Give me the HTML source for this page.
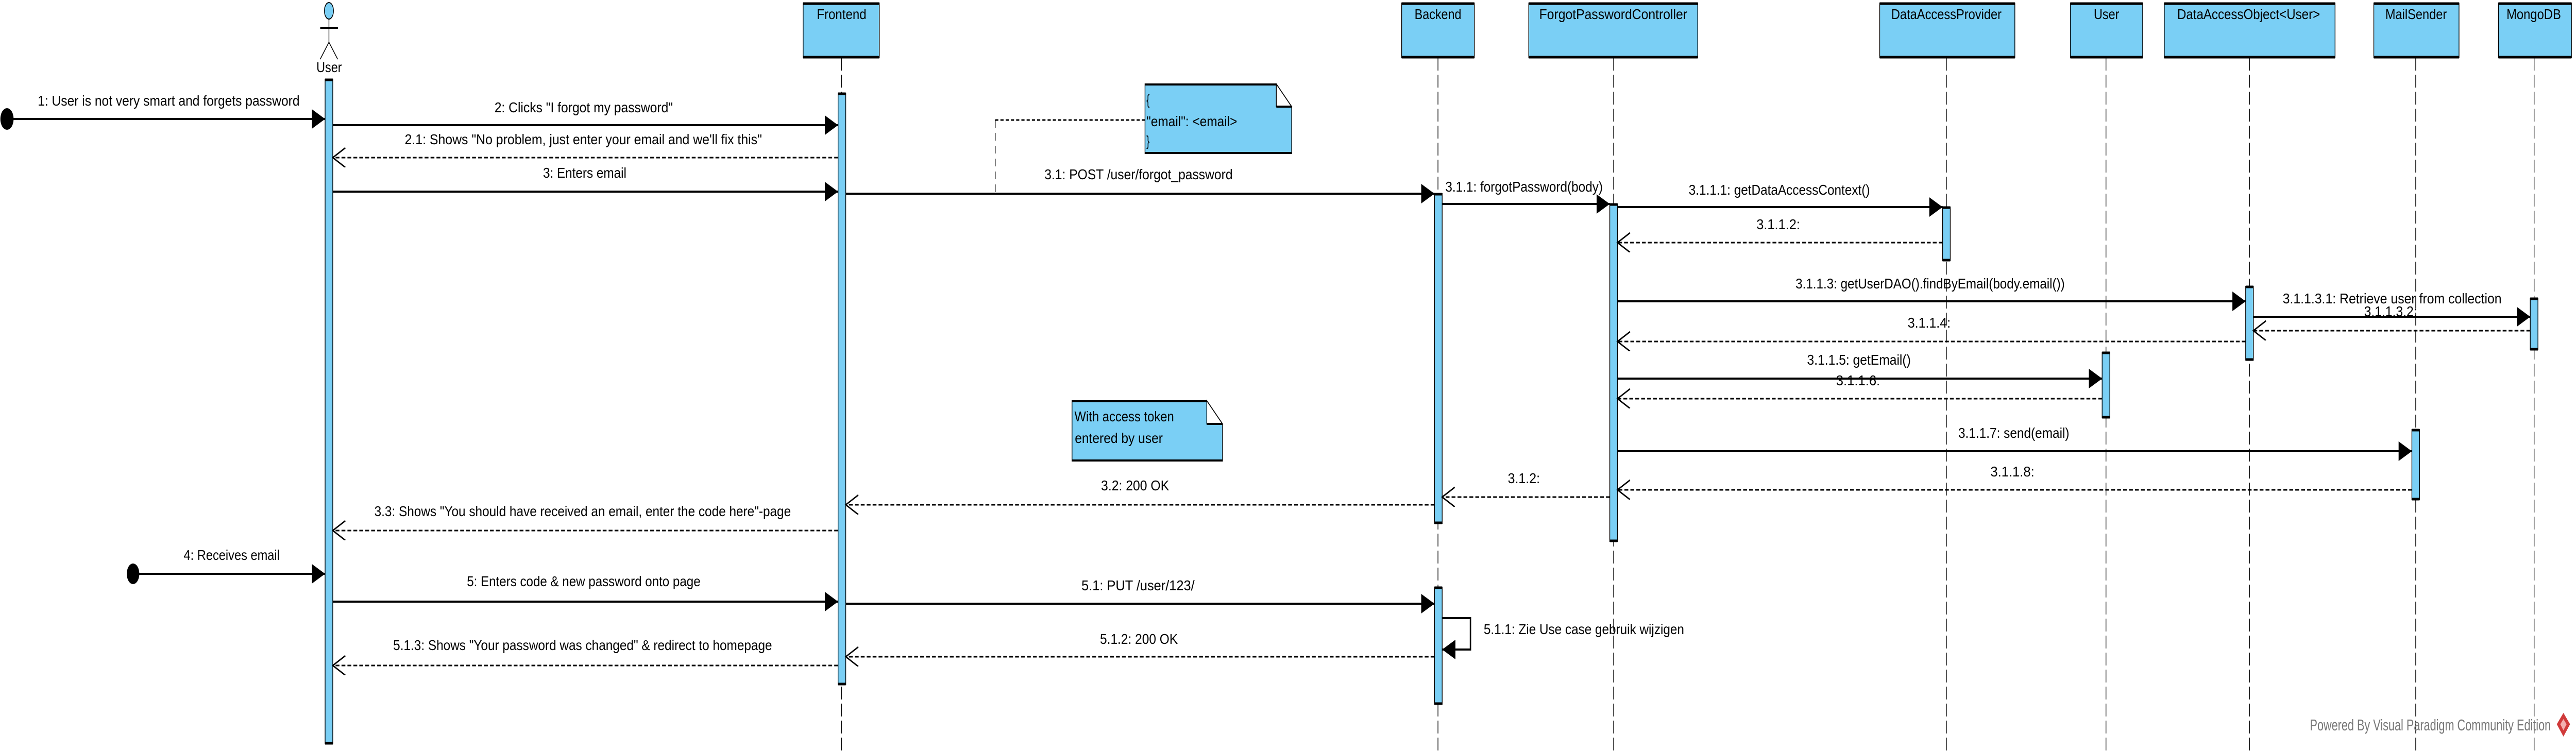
<!DOCTYPE html>
<html><head><meta charset="utf-8"><style>
html,body{margin:0;padding:0;background:#fff;width:100%;height:100%;overflow:hidden;}
svg{display:block;position:absolute;left:0;top:0;width:100vw;height:100vh;}
text{font-family:"Liberation Sans",sans-serif;font-size:28px;fill:#000;}
</style></head><body>
<svg viewBox="0 0 7377 1458" preserveAspectRatio="none" xmlns="http://www.w3.org/2000/svg">
<defs>
<marker id="fa" markerWidth="40" markerHeight="40" refX="38" refY="19" orient="auto" markerUnits="userSpaceOnUse"><path d="M0,0 L38,19 L0,38 Z" fill="#000"/></marker>
<marker id="oa" markerWidth="42" markerHeight="42" refX="38" refY="19" orient="auto" markerUnits="userSpaceOnUse"><path d="M2,0 L38,19 L2,38" fill="none" stroke="#000" stroke-width="3"/></marker>
</defs>
<g fill="#7ACFF5" stroke="#000" stroke-width="2">
<rect x="2300" y="6" width="218" height="106"/>
<rect x="4014" y="6" width="208" height="106"/>
<rect x="4378" y="6" width="484" height="106"/>
<rect x="5383" y="6" width="387" height="106"/>
<rect x="5929" y="6" width="207" height="106"/>
<rect x="6198" y="6" width="489" height="106"/>
<rect x="6798" y="6" width="244" height="106"/>
<rect x="7155" y="6" width="209" height="106"/>
</g>
<g stroke="#000" stroke-width="5">
<line x1="2300" y1="7" x2="2518" y2="7"/><line x1="2300" y1="111" x2="2518" y2="111"/>
<line x1="4014" y1="7" x2="4222" y2="7"/><line x1="4014" y1="111" x2="4222" y2="111"/>
<line x1="4378" y1="7" x2="4862" y2="7"/><line x1="4378" y1="111" x2="4862" y2="111"/>
<line x1="5383" y1="7" x2="5770" y2="7"/><line x1="5383" y1="111" x2="5770" y2="111"/>
<line x1="5929" y1="7" x2="6136" y2="7"/><line x1="5929" y1="111" x2="6136" y2="111"/>
<line x1="6198" y1="7" x2="6687" y2="7"/><line x1="6198" y1="111" x2="6687" y2="111"/>
<line x1="6798" y1="7" x2="7042" y2="7"/><line x1="6798" y1="111" x2="7042" y2="111"/>
<line x1="7155" y1="7" x2="7364" y2="7"/><line x1="7155" y1="111" x2="7364" y2="111"/>
</g>
<text x="2339" y="37" textLength="142" lengthAdjust="spacingAndGlyphs">Frontend</text>
<text x="4051" y="37" textLength="134" lengthAdjust="spacingAndGlyphs">Backend</text>
<text x="4408" y="37" textLength="424" lengthAdjust="spacingAndGlyphs">ForgotPasswordController</text>
<text x="5416" y="37" textLength="316" lengthAdjust="spacingAndGlyphs">DataAccessProvider</text>
<text x="5996" y="37" textLength="73" lengthAdjust="spacingAndGlyphs">User</text>
<text x="6235" y="37" textLength="409" lengthAdjust="spacingAndGlyphs">DataAccessObject&lt;User&gt;</text>
<text x="6831" y="37" textLength="176" lengthAdjust="spacingAndGlyphs">MailSender</text>
<text x="7178" y="37" textLength="156" lengthAdjust="spacingAndGlyphs">MongoDB</text>
<g stroke="#000" stroke-width="2" stroke-dasharray="25 8">
<line x1="2410" y1="112" x2="2410" y2="1458"/>
<line x1="4118" y1="112" x2="4118" y2="1458"/>
<line x1="4621" y1="112" x2="4621" y2="1458"/>
<line x1="5574" y1="112" x2="5574" y2="1458"/>
<line x1="6031" y1="112" x2="6031" y2="1458"/>
<line x1="6442" y1="112" x2="6442" y2="1458"/>
<line x1="6918" y1="112" x2="6918" y2="1458"/>
<line x1="7257" y1="112" x2="7257" y2="1458"/>
</g>
<ellipse cx="942" cy="21" rx="13" ry="16" fill="#7ACFF5" stroke="#000" stroke-width="2"/>
<g stroke="#000" stroke-width="2" fill="none">
<line x1="942" y1="37" x2="942" y2="82"/>
<line x1="917" y1="54" x2="968" y2="54" stroke-width="4"/>
<path d="M917,115 L942,82 L967,115"/>
</g>
<text x="906" y="140" textLength="73" lengthAdjust="spacingAndGlyphs">User</text>
<g fill="#7ACFF5" stroke="#000" stroke-width="2">
<rect x="931" y="154" width="22" height="1290"/>
<rect x="2400" y="181" width="22" height="1148"/>
<rect x="4108" y="376" width="22" height="640"/>
<rect x="4610" y="396" width="22" height="655"/>
<rect x="5563" y="402" width="22" height="104"/>
<rect x="6431" y="556" width="22" height="143"/>
<rect x="7246" y="579" width="22" height="100"/>
<rect x="6020" y="684" width="22" height="127"/>
<rect x="6907" y="834" width="22" height="136"/>
<rect x="4108" y="1140" width="22" height="227"/>
</g>
<g stroke="#000" stroke-width="5">
<line x1="931" y1="155" x2="953" y2="155"/><line x1="931" y1="1443" x2="953" y2="1443"/>
<line x1="2400" y1="182" x2="2422" y2="182"/><line x1="2400" y1="1328" x2="2422" y2="1328"/>
<line x1="4108" y1="377" x2="4130" y2="377"/><line x1="4108" y1="1015" x2="4130" y2="1015"/>
<line x1="4610" y1="397" x2="4632" y2="397"/><line x1="4610" y1="1050" x2="4632" y2="1050"/>
<line x1="5563" y1="403" x2="5585" y2="403"/><line x1="5563" y1="505" x2="5585" y2="505"/>
<line x1="6431" y1="557" x2="6453" y2="557"/><line x1="6431" y1="698" x2="6453" y2="698"/>
<line x1="7246" y1="580" x2="7268" y2="580"/><line x1="7246" y1="678" x2="7268" y2="678"/>
<line x1="6020" y1="685" x2="6042" y2="685"/><line x1="6020" y1="810" x2="6042" y2="810"/>
<line x1="6907" y1="835" x2="6929" y2="835"/><line x1="6907" y1="969" x2="6929" y2="969"/>
<line x1="4108" y1="1141" x2="4130" y2="1141"/><line x1="4108" y1="1366" x2="4130" y2="1366"/>
</g>
<ellipse cx="20" cy="231" rx="19" ry="21" fill="#000"/>
<ellipse cx="381" cy="1114" rx="18" ry="20" fill="#000"/>
<g stroke="#000" stroke-width="4" marker-end="url(#fa)">
<line x1="30" y1="231" x2="931" y2="231"/>
<line x1="953" y1="243" x2="2400" y2="243"/>
<line x1="953" y1="372" x2="2400" y2="372"/>
<line x1="2422" y1="376" x2="4108" y2="376"/>
<line x1="4130" y1="396" x2="4610" y2="396"/>
<line x1="4632" y1="402" x2="5563" y2="402"/>
<line x1="4632" y1="585" x2="6431" y2="585"/>
<line x1="6453" y1="615" x2="7246" y2="615"/>
<line x1="4632" y1="735" x2="6020" y2="735"/>
<line x1="4632" y1="876" x2="6907" y2="876"/>
<line x1="390" y1="1114" x2="931" y2="1114"/>
<line x1="953" y1="1168" x2="2400" y2="1168"/>
<line x1="2422" y1="1172" x2="4108" y2="1172"/>
<path d="M4130,1200 L4211,1200 L4211,1261 L4130,1261" fill="none"/>
</g>
<g stroke="#000" stroke-width="3" stroke-dasharray="11 6" marker-end="url(#oa)">
<line x1="2400" y1="306" x2="953" y2="306"/>
<line x1="5563" y1="471" x2="4632" y2="471"/>
<line x1="7246" y1="642" x2="6453" y2="642"/>
<line x1="6431" y1="663" x2="4632" y2="663"/>
<line x1="6020" y1="774" x2="4632" y2="774"/>
<line x1="6907" y1="951" x2="4632" y2="951"/>
<line x1="4610" y1="965" x2="4130" y2="965"/>
<line x1="4108" y1="980" x2="2422" y2="980"/>
<line x1="2400" y1="1030" x2="953" y2="1030"/>
<line x1="4108" y1="1275" x2="2422" y2="1275"/>
<line x1="2400" y1="1292" x2="953" y2="1292"/>
</g>
<text x="108" y="205" textLength="750" lengthAdjust="spacingAndGlyphs">1: User is not very smart and forgets password</text>
<text x="1416" y="218" textLength="511" lengthAdjust="spacingAndGlyphs">2: Clicks "I forgot my password"</text>
<text x="1159" y="280" textLength="1023" lengthAdjust="spacingAndGlyphs">2.1: Shows "No problem, just enter your email and we'll fix this"</text>
<text x="1555" y="345" textLength="239" lengthAdjust="spacingAndGlyphs">3: Enters email</text>
<text x="2991" y="348" textLength="539" lengthAdjust="spacingAndGlyphs">3.1: POST /user/forgot_password</text>
<text x="4139" y="372" textLength="451" lengthAdjust="spacingAndGlyphs">3.1.1: forgotPassword(body)</text>
<text x="4836" y="378" textLength="519" lengthAdjust="spacingAndGlyphs">3.1.1.1: getDataAccessContext()</text>
<text x="5030" y="445" textLength="125" lengthAdjust="spacingAndGlyphs">3.1.1.2:</text>
<text x="5142" y="560" textLength="771" lengthAdjust="spacingAndGlyphs">3.1.1.3: getUserDAO().findByEmail(body.email())</text>
<text x="6537" y="589" textLength="627" lengthAdjust="spacingAndGlyphs">3.1.1.3.1: Retrieve user from collection</text>
<text x="6770" y="614" textLength="152" lengthAdjust="spacingAndGlyphs">3.1.1.3.2:</text>
<text x="5463" y="636" textLength="123" lengthAdjust="spacingAndGlyphs">3.1.1.4:</text>
<text x="5175" y="708" textLength="297" lengthAdjust="spacingAndGlyphs">3.1.1.5: getEmail()</text>
<text x="5258" y="748" textLength="126" lengthAdjust="spacingAndGlyphs">3.1.1.6:</text>
<text x="5608" y="850" textLength="318" lengthAdjust="spacingAndGlyphs">3.1.1.7: send(email)</text>
<text x="5700" y="925" textLength="126" lengthAdjust="spacingAndGlyphs">3.1.1.8:</text>
<text x="4318" y="938" textLength="92" lengthAdjust="spacingAndGlyphs">3.1.2:</text>
<text x="3153" y="952" textLength="195" lengthAdjust="spacingAndGlyphs">3.2: 200 OK</text>
<text x="1072" y="1002" textLength="1193" lengthAdjust="spacingAndGlyphs">3.3: Shows "You should have received an email, enter the code here"-page</text>
<text x="526" y="1087" textLength="275" lengthAdjust="spacingAndGlyphs">4: Receives email</text>
<text x="1337" y="1138" textLength="669" lengthAdjust="spacingAndGlyphs">5: Enters code &amp; new password onto page</text>
<text x="3097" y="1146" textLength="324" lengthAdjust="spacingAndGlyphs">5.1: PUT /user/123/</text>
<text x="4249" y="1231" textLength="574" lengthAdjust="spacingAndGlyphs">5.1.1: Zie Use case gebruik wijzigen</text>
<text x="3150" y="1250" textLength="223" lengthAdjust="spacingAndGlyphs">5.1.2: 200 OK</text>
<text x="1126" y="1262" textLength="1085" lengthAdjust="spacingAndGlyphs">5.1.3: Shows "Your password was changed" &amp; redirect to homepage</text>
<g stroke="#000" stroke-width="3" fill="none">
<line x1="2850" y1="233" x2="3279" y2="233" stroke-dasharray="9 6"/>
<line x1="2850" y1="233" x2="2850" y2="375" stroke-dasharray="15 10" stroke-width="2"/>
</g>
<path d="M3279,163 L3655,163 L3699,207 L3699,298 L3279,298 Z" fill="#7ACFF5" stroke="#000" stroke-width="2"/>
<path d="M3655,163 L3655,207 L3699,207 Z" fill="#fff" stroke="#000" stroke-width="2"/>
<line x1="3279" y1="164" x2="3655" y2="164" stroke="#000" stroke-width="4"/>
<line x1="3279" y1="297" x2="3699" y2="297" stroke="#000" stroke-width="4"/>
<line x1="3655" y1="207" x2="3699" y2="207" stroke="#000" stroke-width="4"/>
<text x="3283" y="203">{</text>
<text x="3283" y="245" textLength="260" lengthAdjust="spacingAndGlyphs">"email": &lt;email&gt;</text>
<text x="3283" y="283">}</text>
<path d="M3070,778 L3456,778 L3501,823 L3501,895 L3070,895 Z" fill="#7ACFF5" stroke="#000" stroke-width="2"/>
<path d="M3456,778 L3456,823 L3501,823 Z" fill="#fff" stroke="#000" stroke-width="2"/>
<line x1="3070" y1="779" x2="3456" y2="779" stroke="#000" stroke-width="4"/>
<line x1="3070" y1="894" x2="3501" y2="894" stroke="#000" stroke-width="4"/>
<line x1="3456" y1="823" x2="3501" y2="823" stroke="#000" stroke-width="4"/>
<text x="3077" y="818" textLength="285" lengthAdjust="spacingAndGlyphs">With access token</text>
<text x="3078" y="860" textLength="252" lengthAdjust="spacingAndGlyphs">entered by user</text>
<text x="6615" y="1418" textLength="690" lengthAdjust="spacingAndGlyphs" style="font-size:31px;fill:#777">Powered By Visual Paradigm Community Edition</text>
<path d="M7341,1384 L7360,1406 L7341,1430 L7322,1406 Z" fill="#d03a3a"/>
<path d="M7341,1396 L7350,1406 L7341,1418 L7332,1406 Z" fill="#f3b0b0"/>
</svg>
</body></html>
